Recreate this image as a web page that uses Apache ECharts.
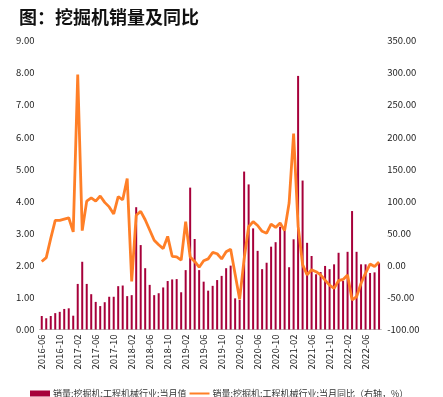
<!DOCTYPE html>
<html>
<head>
<meta charset="utf-8">
<script src="https://cdn.jsdelivr.net/npm/echarts@6/dist/echarts.min.js"></script>
<style>
	html, body { margin: 0; padding: 0; background: #fff; }
	#chart { width: 443px; height: 397px; }
</style>
</head>
<body>
<div id="chart"></div>
<script>
// 月份
var months = [
	'2016-06', '2016-07', '2016-08', '2016-09', '2016-10', '2016-11', '2016-12',
	'2017-01', '2017-02', '2017-03', '2017-04', '2017-05', '2017-06', '2017-07', '2017-08', '2017-09', '2017-10', '2017-11', '2017-12',
	'2018-01', '2018-02', '2018-03', '2018-04', '2018-05', '2018-06', '2018-07', '2018-08', '2018-09', '2018-10', '2018-11', '2018-12',
	'2019-01', '2019-02', '2019-03', '2019-04', '2019-05', '2019-06', '2019-07', '2019-08', '2019-09', '2019-10', '2019-11', '2019-12',
	'2020-01', '2020-02', '2020-03', '2020-04', '2020-05', '2020-06', '2020-07', '2020-08', '2020-09', '2020-10', '2020-11', '2020-12',
	'2021-01', '2021-02', '2021-03', '2021-04', '2021-05', '2021-06', '2021-07', '2021-08', '2021-09', '2021-10', '2021-11', '2021-12',
	'2022-01', '2022-02', '2022-03', '2022-04', '2022-05', '2022-06', '2022-07', '2022-08', '2022-09'
];
// 当月值（万台）
var salesMonth = [
	0.42, 0.35, 0.42, 0.51, 0.55, 0.64, 0.66,
	0.43, 1.42, 2.11, 1.42, 1.10, 0.86, 0.73, 0.85, 1.02, 1.02, 1.35, 1.37,
	1.04, 1.07, 3.81, 2.63, 1.91, 1.39, 1.07, 1.13, 1.31, 1.51, 1.56, 1.57,
	1.16, 1.85, 4.42, 2.82, 1.85, 1.49, 1.21, 1.36, 1.54, 1.67, 1.91, 1.99,
	0.97, 0.92, 4.92, 4.52, 3.15, 2.45, 1.88, 2.08, 2.58, 2.72, 3.20, 3.10,
	1.94, 2.81, 7.90, 4.64, 2.70, 2.29, 1.72, 1.79, 1.98, 1.88, 2.03, 2.39,
	1.51, 2.42, 3.69, 2.42, 2.03, 2.03, 1.76, 1.78, 2.07
];
// 当月同比（%）
var salesYoy = [
	6, 12, 42, 70, 70, 72, 74,
	52, 297, 54, 100, 105, 100, 108, 98, 91, 80, 107, 102,
	135, -25, 78, 84, 71, 55, 39, 32, 26, 45, 14, 13,
	8, 68, 13, 6, -3, 7, 10, 20, 18, 10, 21, 25,
	-14, -53, 10, 60, 68, 62, 53, 50, 64, 59, 66, 54,
	97, 205, 61, 1, -15, -7, -10, -15, -23, -31, -36, -24,
	-22, -15, -54, -49, -28, -12, 2, -2, 5
];
var seriesNames = ['销量:挖掘机:工程机械行业:当月值', '销量:挖掘机:工程机械行业:当月同比（右轴，%）'];

var font = 'Noto Sans CJK SC';
var barColor = '#A7003A';
var lineColor = '#FF7F27';

function fmt2(v) {
	return v.toFixed(2);
}

var chart = echarts.init(document.getElementById('chart'));
chart.setOption({
	animation: false,
	textStyle: { fontFamily: font },
	title: {
		text: '图：挖掘机销量及同比',
		left: 14,
		top: 3,
		textStyle: { fontSize: 18, fontWeight: 'bold', color: '#111', fontFamily: font }
	},
	grid: {
		left: 39.5,
		right: 61.7,
		top: 40.6,
		bottom: 67.5
	},
	legend: {
		left: 25,
		top: 384,
		itemGap: 3,
		itemWidth: 20,
		itemHeight: 6,
		symbolKeepAspect: true,
		textStyle: { fontSize: 9, color: '#333', fontFamily: font, padding: [0, 0, 0, -2] },
		data: [
			{ name: seriesNames[0], icon: 'rect', itemStyle: { color: barColor } },
			{ name: seriesNames[1], icon: 'path://M0,0 H20 V2 H0 Z', itemStyle: { color: lineColor } }
		]
	},
	xAxis: [{
		type: 'category',
		data: months,
		boundaryGap: true,
		axisLine: { lineStyle: { color: '#BFBFBF' } },
		axisTick: { interval: 3, length: 3, lineStyle: { color: '#BFBFBF' } },
		axisLabel: {
			interval: 3,
			rotate: 90,
			margin: 5,
			fontSize: 9.5,
			color: '#222'
		}
	}],
	yAxis: [{
		type: 'value',
		min: 0,
		max: 9,
		interval: 1,
		axisLine: { show: false },
		axisTick: { show: false },
		splitLine: { show: false },
		axisLabel: { formatter: fmt2, fontSize: 9.5, color: '#222', margin: 5 }
	}, {
		type: 'value',
		min: -100,
		max: 350,
		interval: 50,
		axisLine: { show: false },
		axisTick: { show: false },
		splitLine: { show: false },
		axisLabel: { formatter: fmt2, fontSize: 9.5, color: '#222', margin: 6 }
	}],
	series: [{
		name: seriesNames[0],
		type: 'bar',
		data: salesMonth,
		barWidth: 2,
		itemStyle: { color: barColor }
	}, {
		name: seriesNames[1],
		type: 'line',
		yAxisIndex: 1,
		data: salesYoy,
		symbol: 'none',
		lineStyle: { width: 2.8, color: lineColor },
		itemStyle: { color: lineColor }
	}]
});
</script>
</body>
</html>
